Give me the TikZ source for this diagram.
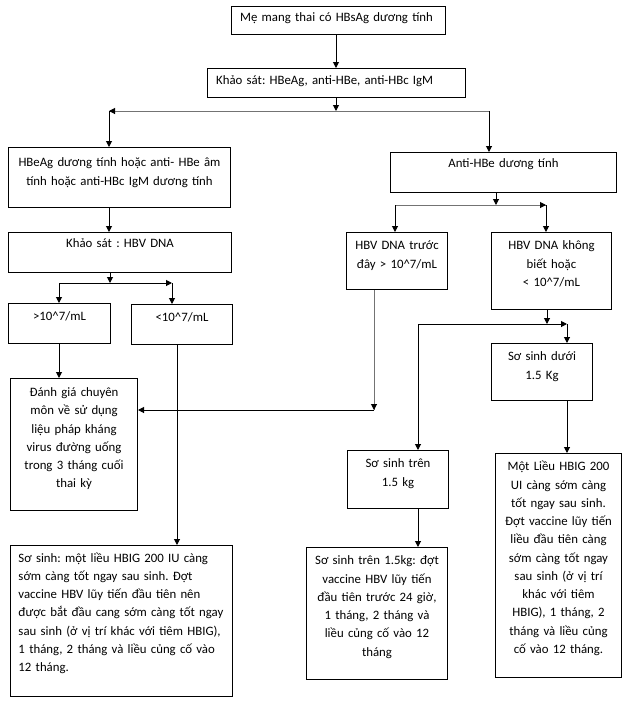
\documentclass[tikz,border=0pt]{standalone}
\usepackage{fontspec}
\setmainfont{Carlito}
\usetikzlibrary{arrows.meta}
\frenchspacing

\begin{document}
\begin{tikzpicture}[x=0.75pt, y=-0.75pt, line width=0.75pt,
	font=\fontsize{9.6pt}{13.7pt}\selectfont,
	>={Triangle[length=4.5pt,width=4.5pt]},
	box/.style={draw, anchor=north west, inner sep=0pt, align=center, text height=13pt},
	leftbox/.style={box, align=left, inner xsep=6.5pt},
	grayline/.style={draw=black!55}]
	\useasboundingbox (0,0) rectangle (626,701);

	% Top: mother and first survey
	\node[leftbox, text width=147.5pt, text height=11.25pt, text depth=9.75pt] (mother) at (231,6)
		{Mẹ mang thai có HBsAg dương tính};
	\node[leftbox, text width=180.5pt, text height=12pt, text depth=9.75pt] (survey) at (207,68)
		{Khảo sát: HBeAg, anti-HBe, anti-HBc IgM};

	% Left column
	\node[box, text width=166.5pt, text height=14.6pt, text depth=30.4pt] (hbeag) at (8,147)
		{HBeAg dương tính hoặc anti- HBe âm\\tính hoặc anti-HBc IgM dương tính};
	\node[box, text width=167.25pt, text height=11.25pt, text depth=18.75pt] (hbvtest) at (8,232)
		{Khảo sát : HBV DNA};
	\node[box, text width=76.5pt, text depth=17pt] (high) at (8,303)
		{>10\textasciicircum 7/mL};
	\node[box, text width=75.75pt, text depth=17pt] (low) at (131,304)
		{<10\textasciicircum 7/mL};
	\node[box, text width=95.25pt, text height=13.5pt, text depth=85.5pt] (consult) at (10,378)
		{Đánh giá chuyên\\môn về  sử dụng\\liệu pháp kháng\\virus đường uống\\trong 3 tháng cuối\\thai kỳ};
	\node[leftbox, inner xsep=6pt, text width=154.5pt, text height=12.4pt, text depth=100.85pt] (newborn) at (10,545)
		{Sơ sinh: một liều HBIG 200 IU càng\\sớm càng tốt ngay sau sinh. Đợt\\vaccine HBV lũy tiến đầu tiên nên\\được bắt đầu cang sớm càng tốt ngay\\sau sinh (ở vị trí khác với tiêm HBIG),\\1 tháng, 2 tháng và liều củng cố vào\\12 tháng.};

	% Right column
	\node[box, text width=169.5pt, text height=10.9pt, text depth=19.1pt] (antihbe) at (390,152)
		{Anti-HBe dương tính};
	\node[box, text width=75.75pt, text depth=29.75pt] (before) at (346,232)
		{HBV DNA trước\\đây > 10\textasciicircum 7/mL};
	\node[box, text width=90pt, text depth=44.75pt] (unknown) at (491,232)
		{HBV DNA không\\biết hoặc\\< 10\textasciicircum 7/mL};
	\node[box, text width=75.75pt, text depth=29.75pt] (under) at (491,343)
		{Sơ sinh dưới\\1.5 Kg};
	\node[box, text width=75.75pt, text depth=30.5pt] (over) at (347,450)
		{Sơ sinh trên\\1.5 kg};
	\node[box, text width=105.75pt, text depth=86pt] (overvacc) at (306,547)
		{Sơ sinh trên 1.5kg: đợt\\vaccine HBV lũy tiến\\đầu tiên trước 24 giờ,\\1 tháng, 2 tháng và\\liều củng cố vào 12\\tháng};
	\node[box, text width=94.5pt, text depth=155pt] (undervacc) at (495,453)
		{Một Liều HBIG 200\\UI càng sớm càng\\tốt ngay sau sinh.\\Đợt vaccine lũy tiến\\liều đầu tiên càng\\sớm càng tốt ngay\\sau sinh (ở vị trí\\khác với tiêm\\HBIG), 1 tháng, 2\\tháng và liều củng\\cố vào 12 tháng.};

	% Junctions and corners
	\coordinate (j1) at (336,111); \coordinate (l1) at (109,111); \coordinate (r1) at (489,111);
	\coordinate (j2) at (496,205); \coordinate (l2) at (395,205); \coordinate (r2) at (546,205);
	\coordinate (j3) at (110,283); \coordinate (l3) at (59,283);  \coordinate (r3) at (172,283);
	\coordinate (j4) at (547,324); \coordinate (l4) at (418,324); \coordinate (r4) at (567,324);
	\coordinate (k5) at (374,410); \coordinate (c3) at (177,420);

	% Top split
	\draw[->] (mother.south -| j1) -- (survey.north -| j1);
	\draw[->] (survey.south -| j1) -- (j1);
	\draw[grayline] (r1) -- (l1);
	\draw[->] ([xshift=3pt]l1) -- (l1);
	\draw[->] (l1) -- (l1 |- hbeag.north);
	\draw[->] (r1) -- (r1 |- antihbe.north);

	% Left branch
	\draw[->] (l1 |- hbeag.south) -- (l1 |- hbvtest.north);
	\draw[->] (hbvtest.south -| j3) -- (j3);
	\draw[->] (l3) -- (r3);
	\draw[->] (l3) -- (l3 |- high.north);
	\draw[->] (r3) -- (r3 |- low.north);
	\draw[->] (l3 |- high.south) -- (l3 |- consult.north);
	\draw[->] (low.south -| c3) -- (newborn.north -| c3);

	% Right branch
	\draw[->] (antihbe.south -| j2) -- (j2);
	\draw[grayline] (l2) -- (r2);
	\draw[->] ([xshift=-3pt]r2) -- (r2);
	\draw[->] (l2) -- (l2 |- before.north);
	\draw[->] (r2) -- (r2 |- unknown.north);
	\draw[grayline] (before.south -| k5) -- (k5);
	\draw[->] ([yshift=3pt]k5) -- (k5);
	\draw[->] (k5) -- (consult.east |- k5);
	\draw[->] (unknown.south -| j4) -- (j4);
	\draw[->] (l4) -- (r4);
	\draw[->] (r4) -- (r4 |- under.north);
	\draw[->] (l4) -- (l4 |- over.north);
	\draw[->] (l4 |- over.south) -- (l4 |- overvacc.north);
	\draw[->] (r4 |- under.south) -- (r4 |- undervacc.north);
\end{tikzpicture}
\end{document}
